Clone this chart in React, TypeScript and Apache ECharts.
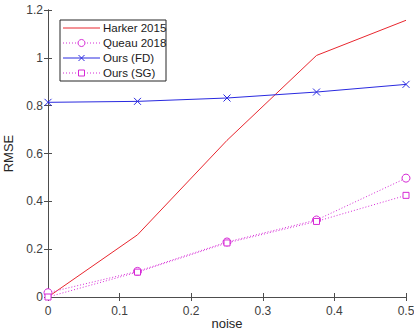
import React, { useEffect, useRef } from "react";
import * as echarts from "echarts";

const noise = [0, 0.125, 0.25, 0.375, 0.5];
const harker = [0, 0.26, 0.655, 1.01, 1.157];
const queau = [0.018, 0.107, 0.23, 0.322, 0.497];
const oursFD = [0.814, 0.818, 0.832, 0.857, 0.889];
const oursSG = [0, 0.104, 0.226, 0.316, 0.425];
const seriesNames = ["Harker 2015", "Queau 2018", "Ours (FD)", "Ours (SG)"];

const pairs = (ys: number[]) => noise.map((x, i) => [x, ys[i]]);

const axisColor = "#4d4d4d";
const textColor = "#404040";
const font = "'Liberation Sans', Arial, sans-serif";
const RED = "#e8262e";
const MAG = "#d62ad6";
const BLUE = "#2a2ae0";

function legendGraphic() {
  const x0 = 60, y0 = 20, w = 106, h = 61;
  const rows = [28, 43, 58, 73];
  const lx1 = 63, lx2 = 100, mx = 81.5, tx = 103;
  const els: any[] = [
    { type: "rect", shape: { x: x0, y: y0, width: w, height: h }, style: { fill: "#fff", stroke: "#262626", lineWidth: 1 } },
  ];
  const styles = [
    { color: RED, dash: null, marker: "none" },
    { color: MAG, dash: [1, 2], marker: "circle" },
    { color: BLUE, dash: null, marker: "x" },
    { color: MAG, dash: [1, 2], marker: "square" },
  ];
  rows.forEach((y, i) => {
    const s = styles[i];
    els.push({ type: "line", shape: { x1: lx1, y1: y, x2: lx2, y2: y }, style: { stroke: s.color, lineWidth: 1, lineDash: s.dash } });
    if (s.marker === "circle") els.push({ type: "circle", shape: { cx: mx, cy: y, r: 3.5 }, style: { fill: "#fff", stroke: s.color, lineWidth: 1 } });
    if (s.marker === "square") els.push({ type: "rect", shape: { x: mx - 3, y: y - 3, width: 6, height: 6 }, style: { fill: "#fff", stroke: s.color, lineWidth: 1 } });
    if (s.marker === "x") {
      els.push({ type: "line", shape: { x1: mx - 3, y1: y - 3, x2: mx + 3, y2: y + 3 }, style: { stroke: s.color, lineWidth: 1 } });
      els.push({ type: "line", shape: { x1: mx - 3, y1: y + 3, x2: mx + 3, y2: y - 3 }, style: { stroke: s.color, lineWidth: 1 } });
    }
    els.push({ type: "text", x: tx, y, style: { text: seriesNames[i], fill: "#1a1a1a", font: `11.5px ${font}`, verticalAlign: "middle", align: "left" } });
  });
  return els;
}

export default function App() {
  const ref = useRef<HTMLDivElement>(null);
  useEffect(() => {
    if (!ref.current) return;
    const chart = echarts.init(ref.current, undefined, { renderer: "svg" });
    const baseAxis = {
      axisLine: { show: true, lineStyle: { color: axisColor, width: 1 } },
      axisTick: { show: true, inside: true, length: 4, lineStyle: { color: axisColor } },
      splitLine: { show: false },
    };
    chart.setOption({
      animation: false,
      backgroundColor: "#ffffff",
      textStyle: { fontFamily: font },
      grid: { left: 48, top: 10, right: 8, bottom: 36, containLabel: false, outerBoundsMode: "none" },
      xAxis: [
        {
          ...baseAxis,
          type: "value",
          min: 0,
          max: 0.5,
          interval: 0.1,
          name: "noise",
          nameLocation: "middle",
          nameGap: 20,
          nameMoveOverlap: false,
          nameTextStyle: { fontSize: 13, color: "#262626", fontFamily: font },
          axisLabel: { fontSize: 12, color: textColor, margin: 8, fontFamily: font },
        },
        {
          ...baseAxis,
          type: "value",
          position: "top",
          min: 0,
          max: 0.5,
          interval: 0.1,
          axisLabel: { show: false },
        },
      ],
      yAxis: [
        {
          ...baseAxis,
          type: "value",
          min: 0,
          max: 1.2,
          interval: 0.2,
          name: "RMSE",
          nameLocation: "middle",
          nameGap: 33,
          nameMoveOverlap: false,
          nameTextStyle: { fontSize: 13, color: "#262626", fontFamily: font },
          axisLabel: {
            fontSize: 12,
            color: textColor,
            margin: 5,
            fontFamily: font,
            formatter: (v: number) => String(+v.toFixed(1)),
          },
        },
        {
          ...baseAxis,
          type: "value",
          position: "right",
          min: 0,
          max: 1.2,
          interval: 0.2,
          axisLabel: { show: false },
        },
      ],
      graphic: legendGraphic(),
      series: [
        {
          name: seriesNames[0],
          type: "line",
          data: pairs(harker),
          symbol: "none",
          itemStyle: { color: RED },
          lineStyle: { color: RED, width: 1 },
        },
        {
          name: seriesNames[1],
          type: "line",
          data: pairs(queau),
          symbol: "circle",
          symbolSize: 8,
          itemStyle: { color: "#ffffff", borderColor: MAG, borderWidth: 1 },
          lineStyle: { color: MAG, width: 1, type: [1, 2] },
        },
        {
          name: seriesNames[2],
          type: "line",
          data: pairs(oursFD),
          symbol: "path://M0,0L10,10M10,0L0,10",
          symbolSize: 7,
          itemStyle: { color: BLUE, borderColor: BLUE, borderWidth: 1 },
          lineStyle: { color: BLUE, width: 1 },
        },
        {
          name: seriesNames[3],
          type: "line",
          data: pairs(oursSG),
          symbol: "rect",
          symbolSize: 6,
          itemStyle: { color: "#ffffff", borderColor: MAG, borderWidth: 1 },
          lineStyle: { color: MAG, width: 1, type: [1, 2] },
        },
      ],
    });
    return () => chart.dispose();
  }, []);
  return <div ref={ref} style={{ width: 414, height: 333, position: "fixed", left: 0, top: 0 }} />;
}
